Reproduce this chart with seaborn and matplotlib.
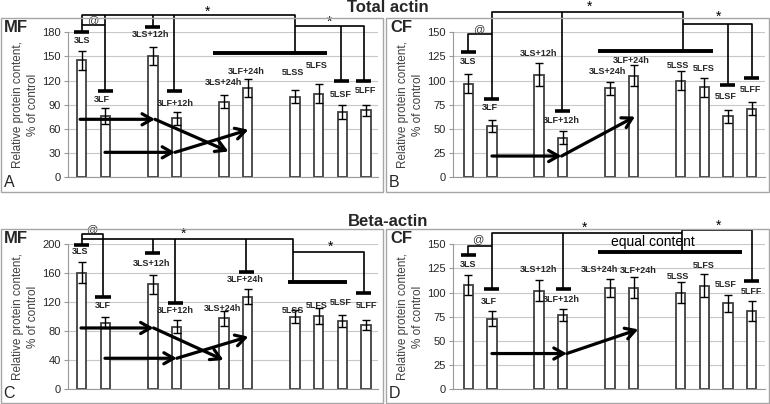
import numpy as np
import pandas as pd
import seaborn as sns
import matplotlib.pyplot as plt
from matplotlib.patches import Rectangle

# Data
groups = ["3LS", "3LF", "3LS+12h", "3LF+12h", "3LS+24h", "3LF+24h",
          "5LSS", "5LFS", "5LSF", "5LFF"]
# empty slots give the gaps between the groups of bars
slot_order = ["3LS", "3LF", " ", "3LS+12h", "3LF+12h", "  ", "3LS+24h", "3LF+24h",
              "   ", "5LSS", "5LFS", "5LSF", "5LFF"]

total_mf = [145, 76, 151, 73, 94, 111, 100, 104, 81, 83]
total_mf_err = [12, 10, 11, 8, 8, 11, 8, 12, 9, 7]
total_cf = [97, 53, 106, 41, 92, 105, 100, 93, 63, 71]
total_cf_err = [10, 6, 12, 7, 7, 11, 10, 10, 7, 7]
beta_mf = [161, 92, 145, 86, 98, 128, 100, 101, 94, 89]
beta_mf_err = [14, 8, 13, 9, 10, 11, 9, 11, 8, 7]
beta_cf = [108, 73, 102, 77, 105, 105, 100, 107, 89, 81]
beta_cf_err = [10, 8, 11, 6, 9, 11, 11, 12, 9, 10]

sns.set_style("white")
plt.rcParams['font.family'] = ['Liberation Sans', 'DejaVu Sans']

W, H = 770, 404
fig = plt.figure(figsize=(W / 100, H / 100), dpi=100)


def fx(px):
    return px / W


def fy(py):
    return 1 - py / H


panels = [
    dict(letter="A", fiber="MF", vals=total_mf, errs=total_mf_err, ymax=180, step=30,
         box=(1, 18, 383, 192), ax=(68, 378, 32.3, 177.3), xlim=(-0.58, 12.5),
         markers=[(0, 180), (1, 107.6), (3, 187), (3.9, 107.6), (10.95, 119.6), (11.9, 119.6)],
         thick=(5.55, 10.34, 154),
         lines=[[(0, 180), (0, 201.5), (9, 201.5), (9, 154)],
                [(1, 107.6), (1, 201.5)],
                [(0, 188.6), (1, 188.6)],
                [(3, 187), (3, 201.5)],
                [(3.9, 107.6), (3.9, 201.5)],
                [(9, 187.8), (11.9, 187.8), (11.9, 119.6)],
                [(10.95, 187.8), (10.95, 119.6)]],
         notes=[("@", 0.45, 194.5, 8), ("*", 5.3, 206, 10), ("*", 10.45, 193, 10)],
         labels=[(0, 170), (0.85, 97), (2.9, 176.7), (3.94, 92), (5.98, 117.5), (6.96, 131),
                 (8.93, 130), (9.92, 139), (10.93, 103.4), (11.96, 107.6)],
         arrows=[[(-0.07, 72), (3.09, 72), (6.19, 32)],
                 [(0.98, 31), (3.94, 31), (7.03, 59)]]),
    dict(letter="B", fiber="CF", vals=total_cf, errs=total_cf_err, ymax=150, step=25,
         box=(386, 18, 769, 192), ax=(453, 765, 32.3, 177.3), xlim=(-0.65, 12.57),
         markers=[(0, 129.3), (1, 80.7), (3.98, 69), (11, 95.5), (12, 103)],
         thick=(5.51, 10.38, 131),
         lines=[[(0, 129.3), (0, 148), (1, 148)],
                [(1, 80.7), (1, 171.4), (9.1, 171.4), (9.1, 131)],
                [(3.98, 171.4), (3.98, 69)],
                [(9.1, 159), (12, 159), (12, 103)],
                [(11, 159), (11, 95.5)]],
         notes=[("@", 0.43, 153.5, 8), ("*", 5.15, 176.5, 10), ("*", 10.59, 166, 10)],
         labels=[(0, 119.7), (0.92, 72.4), (2.97, 128), (3.95, 59), (5.9, 109), (6.92, 121),
                 (8.9, 116), (9.96, 113), (10.9, 83.4), (11.94, 91)],
         arrows=[[(1.0, 22), (3.95, 22), (7.06, 62.8)]]),
    dict(letter="C", fiber="MF", vals=beta_mf, errs=beta_mf_err, ymax=200, step=40,
         box=(1, 229, 383, 403), ax=(68, 378, 244.3, 389.3), xlim=(-0.58, 12.5),
         markers=[(0, 199), (0.9, 127.6), (3, 187.6), (3.95, 119.5), (6.95, 162), (11.9, 132.4)],
         thick=(8.72, 11.18, 148.5),
         lines=[[(0, 199), (0, 214), (0.9, 214), (0.9, 127.6)],
                [(0, 207), (8.9, 207), (8.9, 148.5)],
                [(3, 207), (3, 187.6)],
                [(3.95, 207), (3.95, 119.5)],
                [(6.95, 207), (6.95, 162)],
                [(8.9, 189), (11.9, 189), (11.9, 132.4)]],
         notes=[("@", 0.42, 221.5, 8), ("*", 4.29, 214.5, 10), ("*", 10.48, 196.5, 10)],
         labels=[(-0.07, 190), (0.91, 115), (2.95, 174), (3.94, 108.5), (5.95, 112),
                 (6.89, 152), (8.9, 109), (9.92, 115), (10.93, 119.5), (12, 115)],
         arrows=[[(-0.03, 84.6), (3.03, 84.6), (5.98, 40.5)],
                 [(0.98, 42.8), (4.01, 42.8), (7.03, 72.6)]]),
    dict(letter="D", fiber="CF", vals=beta_cf, errs=beta_cf_err, ymax=150, step=25,
         box=(386, 229, 769, 403), ax=(453, 765, 244.3, 389.3), xlim=(-0.65, 12.57),
         markers=[(0, 139), (1, 103.8), (4.02, 103.8), (12, 112)],
         thick=(5.51, 11.58, 141.7),
         lines=[[(0, 139), (0, 148.6), (1, 148.6)],
                [(1, 103.8), (1, 161.4), (9.04, 161.4)],
                [(4.02, 161.4), (4.02, 103.8)],
                [(9.04, 141.7), (9.04, 164.8), (12, 164.8), (12, 112)]],
         notes=[("@", 0.42, 155, 8), ("*", 4.94, 167.6, 10), ("*", 10.59, 169.5, 10),
                ("equal content", 7.84, 152.8, 10)],
         labels=[(0, 128.6), (0.88, 90.7), (2.97, 124), (3.95, 92.4), (5.55, 124),
                 (7.2, 123.4), (8.9, 117), (9.96, 127.6), (10.9, 108), (12, 101)],
         arrows=[[(1.0, 37), (4.17, 37), (7.2, 62)]]),
]

arrow_props = dict(arrowstyle='->,head_length=0.7,head_width=0.4', lw=2.3,
                   color='black', shrinkA=0, shrinkB=0)

for p in panels:
    bx0, by0, bx1, by1 = p['box']
    fig.patches.append(Rectangle((fx(bx0), fy(by1)), fx(bx1 - bx0), (by1 - by0) / H,
                                 transform=fig.transFigure, fill=False,
                                 edgecolor='#a6a6a6', lw=1))
    left, right, top, bottom = p['ax']
    ax = fig.add_axes([fx(left), fy(bottom), fx(right - left), (bottom - top) / H])

    df = pd.DataFrame({'group': groups, 'value': p['vals']})
    sns.barplot(data=df, x='group', y='value', order=slot_order, width=0.4,
                color='white', edgecolor='#404040', linewidth=1.3, errorbar=None,
                saturation=1, ax=ax)
    pos = [slot_order.index(g) for g in groups]
    ax.errorbar(pos, p['vals'], yerr=p['errs'], fmt='none', ecolor='black',
                elinewidth=1, capsize=2.8, capthick=1, zorder=4)

    ax.set_xlim(*p['xlim'])
    ax.set_ylim(0, p['ymax'])
    ax.set_yticks(np.arange(0, p['ymax'] + 1, p['step']))
    ax.set_xticks([])
    ax.set_xlabel('')
    ax.set_ylabel('Relative protein content,\n% of control', fontsize=8.5,
                  color='#404040', labelpad=2.5, linespacing=1.35)
    ax.set_axisbelow(True)
    ax.yaxis.grid(True, color='#c8c8c8', lw=0.8)
    ax.tick_params(axis='y', length=3, width=0.8, color='#999999', labelsize=8,
                   pad=2, left=True)
    for s in ['top', 'right']:
        ax.spines[s].set_visible(False)
    for s in ['left', 'bottom']:
        ax.spines[s].set_color('#999999')
        ax.spines[s].set_linewidth(0.8)
    ax.patch.set_alpha(0)

    # significance brackets
    for line in p['lines']:
        xs, ys = zip(*line)
        ax.plot(xs, ys, color='black', lw=1.2, clip_on=False, zorder=5,
                solid_capstyle='butt')
    for mx, my in p['markers']:
        ax.plot([mx - 0.32, mx + 0.32], [my, my], color='black', lw=2.6,
                clip_on=False, zorder=5, solid_capstyle='butt')
    tx0, tx1, ty = p['thick']
    ax.plot([tx0, tx1], [ty, ty], color='black', lw=2.8, clip_on=False, zorder=5,
            solid_capstyle='butt')
    for s, nx, ny, fs in p['notes']:
        ax.text(nx, ny, s, ha='center', va='center', fontsize=fs,
                color='#333333' if s == '@' else 'black', clip_on=False, zorder=6)
    for g, (lx, ly) in zip(groups, p['labels']):
        ax.text(lx, ly, g, ha='center', va='center', fontsize=6.5,
                fontweight='bold', zorder=6, clip_on=False)
    for a in p['arrows']:
        for start, end in zip(a[:-1], a[1:]):
            ax.annotate('', xy=end, xytext=start, arrowprops=arrow_props,
                        zorder=7, annotation_clip=False)

    fig.text(fx(bx0 + 15), fy(by0 + 9.5), p['fiber'], fontsize=12, fontweight='bold',
             ha='center', va='center')
    fig.text(fx(bx0 + 8.5), fy(by1 - 9.5), p['letter'], fontsize=11.5,
             ha='center', va='center')

fig.text(fx(388), fy(7), 'Total actin', fontsize=12, fontweight='bold',
         ha='center', va='center')
fig.text(fx(388), fy(221), 'Beta-actin', fontsize=12, fontweight='bold',
         ha='center', va='center')

fig.savefig('out.png', dpi=100)
